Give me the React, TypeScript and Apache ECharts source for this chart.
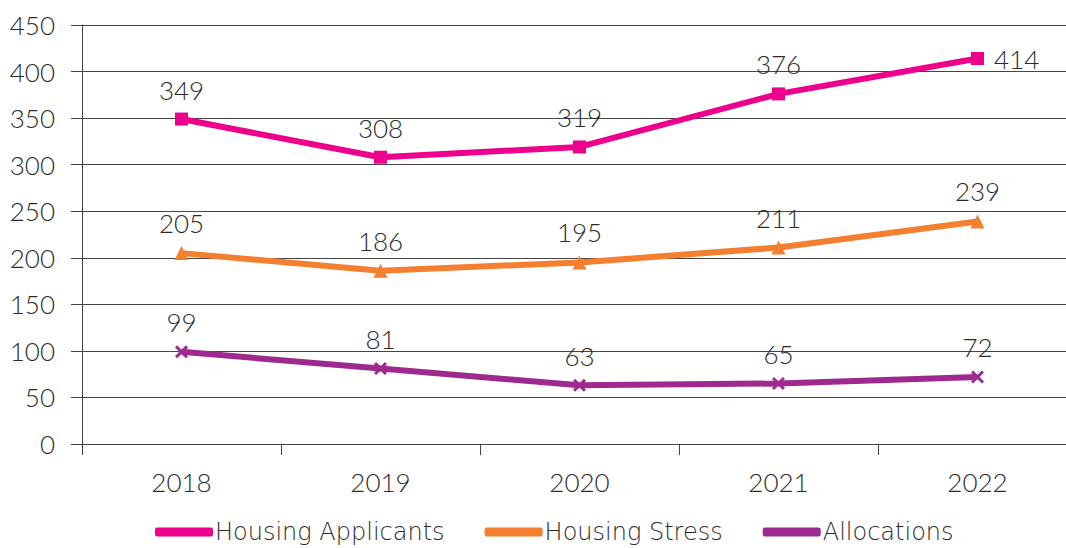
import React, { useEffect, useRef } from "react";
import * as echarts from "echarts";

const years = ["2018", "2019", "2020", "2021", "2022"];
const housingApplicants = [349, 308, 319, 376, 414];
const housingStress = [205, 186, 195, 211, 239];
const allocations = [99, 81, 63, 65, 72];
const seriesNames = ["Housing Applicants", "Housing Stress", "Allocations"];

const FONT = "Lato";
const TXT = "#2b2b2b";
const X_SYMBOL =
  "path://M0,1.6 L1.6,0 L5,3.4 L8.4,0 L10,1.6 L6.6,5 L10,8.4 L8.4,10 L5,6.6 L1.6,10 L0,8.4 L3.4,5 Z";

export default function App() {
  const ref = useRef<HTMLDivElement>(null);
  useEffect(() => {
    if (!ref.current) return;
    const chart = echarts.init(ref.current, undefined, { renderer: "svg" });
    const mk = (name: string, data: number[], color: string, symbol: string, size: number) => ({
      name,
      type: "line",
      data: data.map((v, i) =>
        i === data.length - 1 && name === seriesNames[0]
          ? { value: v, label: { position: "right", distance: 10 } }
          : v
      ),
      symbol,
      symbolSize: size,
      showAllSymbol: true,
      lineStyle: { color, width: 6 },
      itemStyle: { color },
      label: {
        show: true,
        position: "top",
        distance: 10,
        color: TXT,
        fontFamily: FONT,
        fontWeight: 300,
        fontSize: 26,
      },
      z: 3,
    });
    chart.setOption({
      animation: false,
      grid: { left: 82, top: 25, width: 995, height: 419, containLabel: false },
      legend: {
        data: seriesNames,
        top: 518,
        left: 155,
        itemWidth: 58,
        itemHeight: 9,
        itemGap: 40,
        icon: "roundRect",
        padding: 0,
        textStyle: {
          fontFamily: "DejaVu Sans",
          fontWeight: 200,
          fontSize: 24,
          lineHeight: 28,
          color: TXT,
          padding: [0, 0, 0, -3],
        },
      },
      xAxis: {
        type: "category",
        data: years,
        boundaryGap: true,
        axisLine: { lineStyle: { color: "#444", width: 1 } },
        axisTick: { show: true, length: 11, inside: false, lineStyle: { color: "#444" } },
        axisLabel: { color: TXT, fontFamily: FONT, fontWeight: 300, fontSize: 26, margin: 25 },
      },
      yAxis: {
        type: "value",
        min: 0,
        max: 450,
        interval: 50,
        axisLine: { show: true, lineStyle: { color: "#444", width: 1 } },
        axisTick: { show: true, length: 11, lineStyle: { color: "#444" } },
        axisLabel: { color: TXT, fontFamily: FONT, fontWeight: 300, fontSize: 26, margin: 27 },
        splitLine: { lineStyle: { color: "#444", width: 1 } },
      },
      series: [
        mk(seriesNames[0], housingApplicants, "#EC008C", "rect", 13),
        mk(seriesNames[1], housingStress, "#F37F2F", "triangle", 14),
        mk(seriesNames[2], allocations, "#9E2A8F", X_SYMBOL, 13),
      ],
    });
    return () => chart.dispose();
  }, []);
  return (
    <div
      ref={ref}
      style={{ position: "fixed", left: 0, top: 0, width: 1080, height: 548, background: "#fff" }}
    />
  );
}
